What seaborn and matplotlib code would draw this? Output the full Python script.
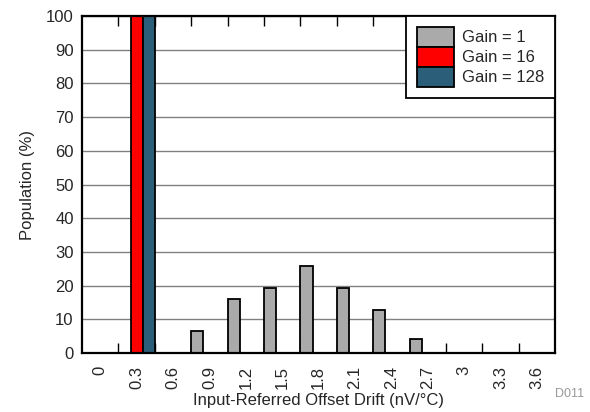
import pandas as pd
import numpy as np
import matplotlib.pyplot as plt
from matplotlib.ticker import FixedLocator
import seaborn as sns

# -------------------------------------------------------
# Data
# -------------------------------------------------------
drift_bins = ['0', '0.3', '0.6', '0.9', '1.2', '1.5', '1.8',
              '2.1', '2.4', '2.7', '3', '3.3', '3.6']
gain_1 = [0, 0, 0, 6.5, 16.0, 19.3, 25.8, 19.4, 12.8, 4.1, 0, 0, 0]
gain_16 = [0, 100, 0, 0, 0, 0, 0, 0, 0, 0, 0, 0, 0]
gain_128 = [0, 100, 0, 0, 0, 0, 0, 0, 0, 0, 0, 0, 0]
gain_labels = ['Gain = 1', 'Gain = 16', 'Gain = 128']
gain_colors = ['#AAAAAA', '#FF0000', '#2B5E78']

df = pd.concat([
    pd.DataFrame({'drift': drift_bins, 'pop': vals, 'gain': lab})
    for vals, lab in zip([gain_1, gain_16, gain_128], gain_labels)
])

# -------------------------------------------------------
# Plot
# -------------------------------------------------------
sns.set_style("white")
plt.rcParams['font.family'] = ['Liberation Sans', 'DejaVu Sans']
fs = 12

fig = plt.figure(figsize=(5.9, 4.12), dpi=100)
ax = fig.add_axes([0.139, 0.143, 0.802, 0.818])

sns.barplot(data=df, x='drift', y='pop', hue='gain', order=drift_bins,
            hue_order=gain_labels, palette=gain_colors, width=1.0,
            saturation=1, edgecolor='black', linewidth=1.3, ax=ax)

ax.set_axisbelow(True)
ax.set_ylim(0, 100)
ax.set_xlim(-0.5, len(drift_bins) - 0.5)
ax.set_yticks(np.arange(0, 101, 10))
ax.yaxis.grid(True, color='#808080', linewidth=1)
ax.xaxis.grid(False)

# category boundaries as small inward ticks
ax.xaxis.set_minor_locator(FixedLocator(np.arange(0.5, len(drift_bins) - 0.5, 1)))
ax.tick_params(axis='x', which='minor', direction='in', length=7, width=1,
               color='black', top=True, bottom=True)
ax.tick_params(axis='x', which='major', length=0, labelsize=fs,
               labelrotation=90, pad=9)
ax.tick_params(axis='y', length=0, labelsize=fs, pad=6)

for s in ax.spines.values():
    s.set_visible(True)
    s.set_color('black')
    s.set_linewidth(1.6)

ax.set_xlabel('Input-Referred Offset Drift (nV/\u00b0C)', fontsize=fs, labelpad=3)
ax.set_ylabel('Population (%)', fontsize=fs, labelpad=8)

handles, labels = ax.get_legend_handles_labels()
leg = ax.legend(handles, labels, loc='upper right', borderaxespad=0,
                fontsize=fs, labelspacing=0, handleheight=1.47,
                handlelength=2.2, handletextpad=0.5, borderpad=0.65,
                fancybox=False, framealpha=1, edgecolor='black')
leg.get_frame().set_linewidth(1.3)

fig.text(0.99, 0.03, 'D011', ha='right', va='bottom', fontsize=9, color='#999999')

plt.savefig('out.png', dpi=100)
plt.close()
